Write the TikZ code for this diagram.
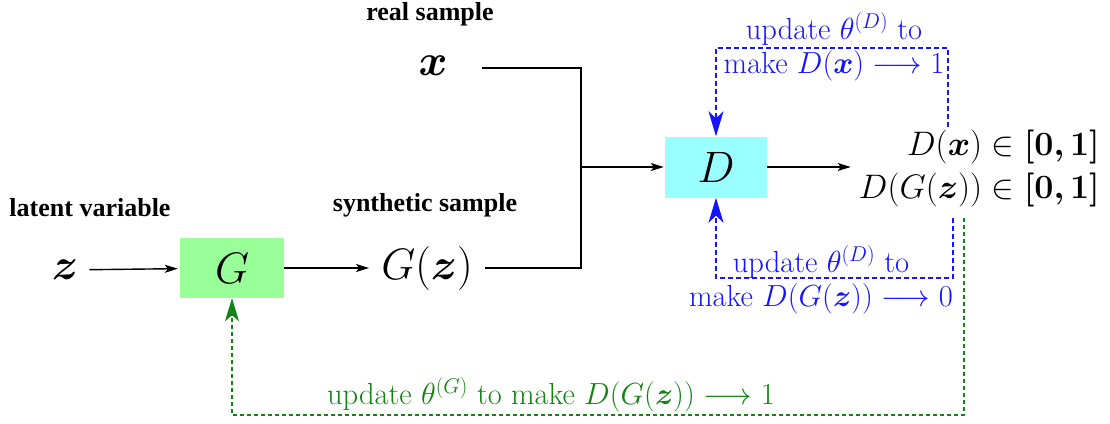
\RequirePackage{fix-cm}
\documentclass[tikz,border=0pt]{standalone}
\usepackage{fontspec}
\usepackage{bm}
\usetikzlibrary{arrows.meta}
\newfontfamily\labelfont{Liberation Serif}
\definecolor{genfill}{RGB}{153,255,153}
\definecolor{disfill}{RGB}{153,255,255}
\definecolor{gengreen}{RGB}{20,130,20}
\definecolor{disblue}{RGB}{20,20,255}

\begin{document}
\begin{tikzpicture}[x=1pt,y=-1pt,
  mathnode/.style={font=\fontsize{44}{50}\selectfont, inner sep=2pt},
  tag/.style={font=\labelfont\bfseries\fontsize{26}{30}\selectfont, inner sep=0pt},
  flow/.style={line width=1.4pt},
  flowarrow/.style={flow, -{Stealth[length=13pt,width=8pt,inset=3pt]}},
  gbox/.style={fill=genfill, minimum width=104pt, minimum height=60pt, inner sep=0pt, font=\fontsize{44}{50}\selectfont},
  dbox/.style={fill=disfill, minimum width=102pt, minimum height=61pt, inner sep=0pt, font=\fontsize{44}{50}\selectfont},
  dupd/.style={disblue, line width=1.7pt, dash pattern=on 5pt off 3pt,
    -{Stealth[length=25pt,width=15pt,inset=7pt]}},
  gupd/.style={gengreen, line width=1.5pt, dash pattern=on 4pt off 3pt,
    -{Stealth[length=23pt,width=14pt,inset=6pt]}},
  note/.style={font=\fontsize{30.5}{34}\selectfont, align=center, inner sep=0pt},
]
\useasboundingbox (0,0) rectangle (1110,423);

% labels
\node[tag] (lbllat) at (90,208) {latent variable};
\node[tag] (lblsyn) at (425,205) {synthetic sample};
\node[tag] (lblreal) at (430,14) {real sample};

% nodes
\node[mathnode] (z) at (65,270) {$\bm z$};
\node[gbox] (G) at (232,268) {$G$};
\node[mathnode] (Gz) at (427,268) {$G(\bm z)$};
\node[mathnode] (x) at (433,66) {$\bm x$};
\node[dbox] (D) at (716,167) {$D$};
\node[anchor=east, align=right, inner sep=2pt, font=\fontsize{34}{43}\selectfont] (out) at (1102,168)
  {$D(\bm x)\in\bm{[0,1]}$\\$D(G(\bm z))\in\bm{[0,1]}$};

% junction of the two samples
\coordinate (jt) at (581,68);
\coordinate (jm) at (581,167);
\coordinate (jb) at (581,268);

% forward flow
\draw[flowarrow, shorten <=9pt, shorten >=2pt] (z) -- (G);
\draw[flowarrow, shorten >=10pt] (G) -- (Gz);
\draw[flow, shorten <=32pt] (x.east |- jt) -- (jt) -- (jb) -- ([xshift=10pt]Gz.east);
\draw[flowarrow, shorten >=1pt] (jm) -- (D);
\draw[flowarrow, shorten >=6pt] (D) -- (out.west |- D.east);

% discriminator update, real branch
\coordinate (rs) at (948,127);
\coordinate (rc) at (948,48);
\draw[dupd] (rs) -- (rc) -| (D.north);
\node[note, disblue] (nreal) at (834,47) {update $\theta^{(D)}$ to\\[0pt]make $D(\bm x)\longrightarrow1$};

% discriminator update, synthetic branch
\coordinate (fs) at (953,218);
\coordinate (fc) at (953,278);
\draw[dupd] (fs) -- (fc) -| (D.south);
\node[note, disblue] (nfake) at (821,280) {update $\theta^{(D)}$ to\\[0pt]make $D(G(\bm z))\longrightarrow0$};

% generator update
\coordinate (gs) at (964,218);
\coordinate (gc) at (964,415);
\draw[gupd] (gs) -- (gc) -| (G.south);
\node[note, gengreen] (ngen) at (551,395) {update $\theta^{(G)}$ to make $D(G(\bm z))\longrightarrow1$};
\end{tikzpicture}
\end{document}
